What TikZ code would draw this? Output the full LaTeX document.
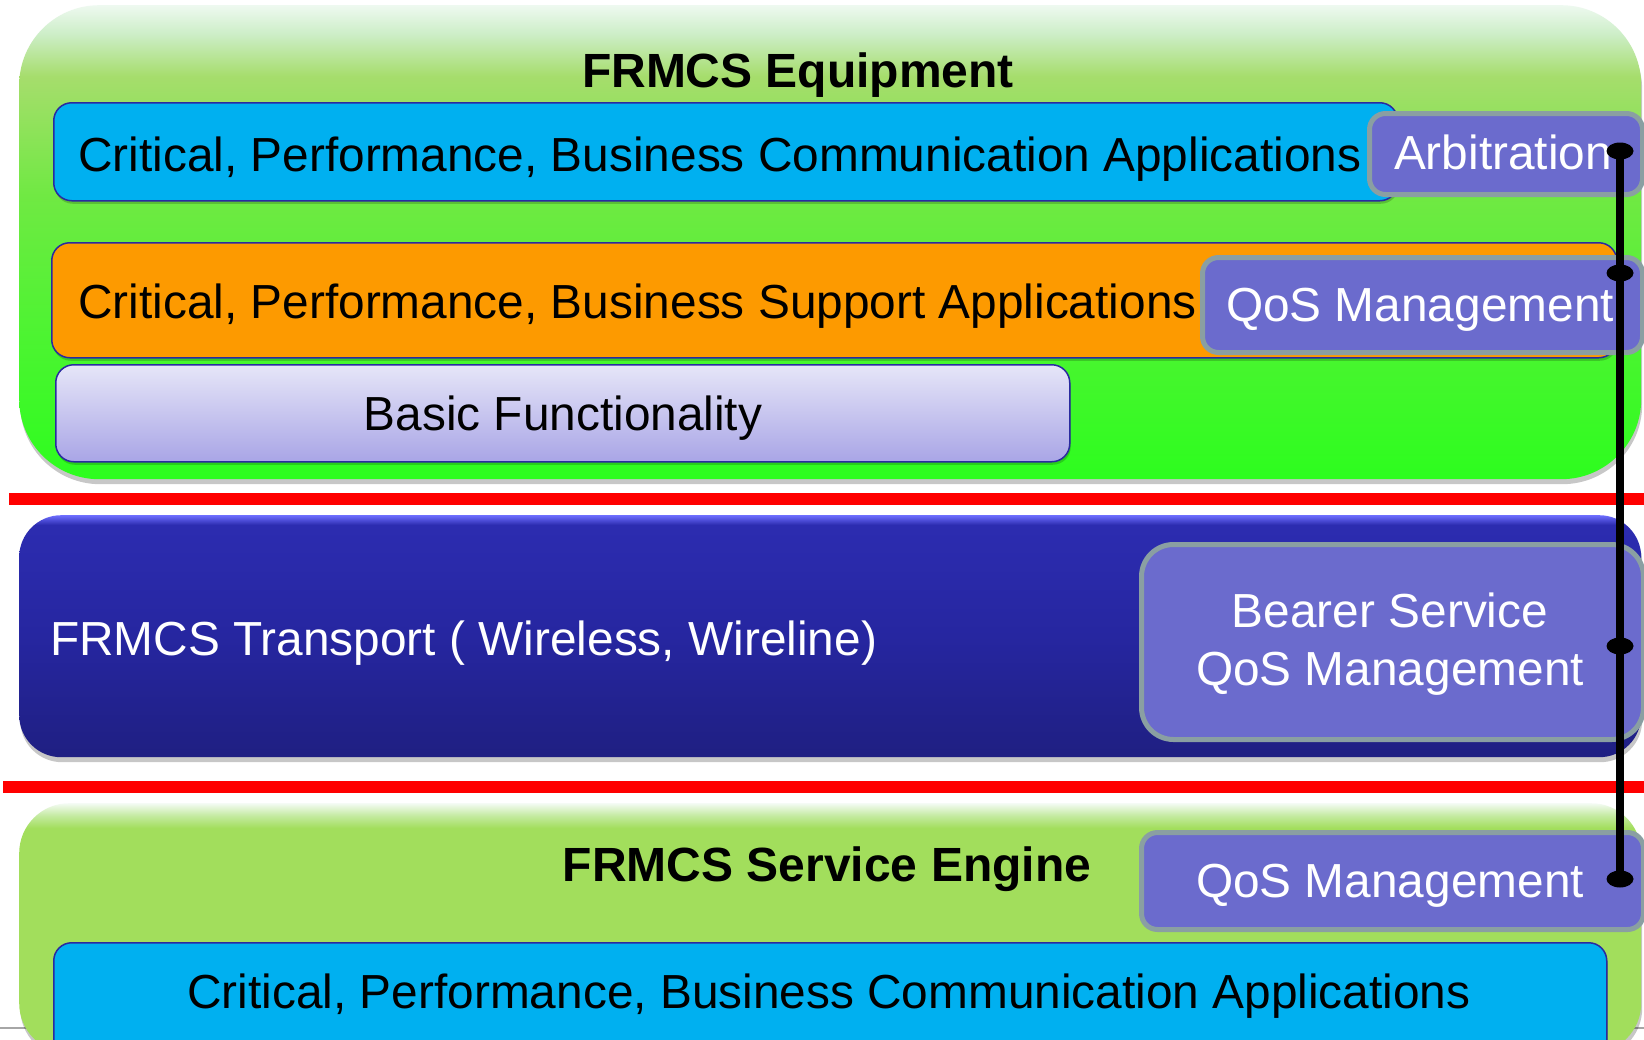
\documentclass[tikz,border=0pt]{standalone}
\usepackage{fontspec}
\setmainfont{Liberation Sans}
\usetikzlibrary{shapes.geometric,shadows}

\definecolor{appblue}{HTML}{00B0F0}
\definecolor{apporange}{HTML}{FD9A00}
\definecolor{appedge}{HTML}{2A2AA0}
\definecolor{mgmtfill}{HTML}{6B6BCD}
\definecolor{mgmtedge}{HTML}{8A9FA2}
\definecolor{sepred}{HTML}{FF0000}

% upper green layer: pale top edge fading into bright green
\pgfdeclareverticalshading{eqpshade}{100bp}{%
  color(0bp)=(rgb,255:red,45;green,253;blue,30); color(25bp)=(rgb,255:red,45;green,253;blue,30);
  color(40bp)=(rgb,255:red,76;green,244;blue,49);
  color(55bp)=(rgb,255:red,112;green,233;blue,67);
  color(67.5bp)=(rgb,255:red,166;green,221;blue,108);
  color(72bp)=(rgb,255:red,205;green,238;blue,200);
  color(75bp)=(rgb,255:red,238;green,249;blue,240);
  color(100bp)=(rgb,255:red,238;green,249;blue,240)}
% lower green layer
\pgfdeclareverticalshading{engshade}{100bp}{%
  color(0bp)=(rgb,255:red,162;green,222;blue,92);
  color(70bp)=(rgb,255:red,162;green,222;blue,92);
  color(72.5bp)=(rgb,255:red,196;green,234;blue,160);
  color(75bp)=(rgb,255:red,244;green,251;blue,244);
  color(100bp)=(rgb,255:red,244;green,251;blue,244)}
% transport layer
\pgfdeclareverticalshading{trnshade}{100bp}{%
  color(0bp)=(rgb,255:red,31;green,31;blue,130);
  color(25bp)=(rgb,255:red,31;green,31;blue,130);
  color(50bp)=(rgb,255:red,38;green,38;blue,160);
  color(73bp)=(rgb,255:red,44;green,44;blue,176);
  color(75bp)=(rgb,255:red,110;green,110;blue,255);
  color(100bp)=(rgb,255:red,110;green,110;blue,255)}
% basic functionality bar
\pgfdeclareverticalshading{basshade}{100bp}{%
  color(0bp)=(rgb,255:red,169;green,165;blue,230);
  color(25bp)=(rgb,255:red,169;green,165;blue,230);
  color(75bp)=(rgb,255:red,230;green,230;blue,248);
  color(100bp)=(rgb,255:red,230;green,230;blue,248)}

\begin{document}
\begin{tikzpicture}[x=1pt,y=-1pt,
  lbl/.style={inner sep=0pt, font=\fontsize{47.8}{57}\selectfont},
  ttl/.style={inner sep=0pt, font=\fontsize{48}{57}\selectfont\bfseries},
  softshadow/.style={drop shadow={shadow xshift=1pt, shadow yshift=-5pt, opacity=0.22, fill=black}},
  layer/.style={inner sep=0pt, anchor=north west, rounded corners=80pt, softshadow},
  band/.style={draw=appedge, line width=1.5pt, rounded corners=18pt, inner sep=0pt, anchor=north west,
    drop shadow={shadow xshift=1pt, shadow yshift=-3pt, opacity=0.18, fill=black}},
  mgmt/.style={fill=mgmtfill, draw=mgmtedge, line width=5pt, rounded corners=16pt, inner sep=0pt, anchor=north west},
  knob/.style={ellipse, fill=black, inner sep=0pt, minimum width=27pt, minimum height=17pt},
  sep/.style={sepred, line width=12pt}]

\useasboundingbox (0,0) rectangle (1644,1039);
\clip (0,0) rectangle (1644,1039);
\fill[white] (0,0) rectangle (1644,1039);
\draw[gray!70, line width=1.2pt] (0,1028) -- (1644,1028);

% ---------- FRMCS Equipment ----------
\node[layer, shading=eqpshade, minimum width=1622pt, minimum height=474pt] (eqp) at (19,5) {};
\node[ttl, anchor=base] (eqptitle) at (798,87) {FRMCS Equipment};

\node[band, fill=appblue, minimum width=1344pt, minimum height=98pt] (comapp) at (53,102) {};
\node[lbl, anchor=base west] (comtxt) at (78,171) {Critical, Performance, Business Communication Applications};

\node[mgmt, minimum width=273pt, minimum height=81pt] (arb) at (1367,111) {};
\node[lbl, anchor=base, text=white] (arbtxt) at (1503,169) {Arbitration};

\node[band, fill=apporange, minimum width=1565pt, minimum height=115pt] (supapp) at (51,242) {};
\node[lbl, anchor=base west] (suptxt) at (78,318) {Critical, Performance, Business Support Applications};

\node[mgmt, minimum width=440pt, minimum height=95pt] (qos1) at (1200,255) {};
\node[lbl, anchor=base, text=white] (qos1txt) at (1420,321) {QoS Management};

\node[band, shading=basshade, minimum width=1014pt, minimum height=97pt] (basic) at (55,364) {};
\node[lbl, anchor=base] (bastxt) at (563,430) {Basic Functionality};

% ---------- separators ----------
\coordinate (sepAl) at (9,499);
\coordinate (sepAr) at (1644,499);
\draw[sep] (sepAl) -- (sepAr);
\coordinate (sepBl) at (3,787);
\coordinate (sepBr) at (1644,787);
\draw[sep] (sepBl) -- (sepBr);

% ---------- FRMCS Transport ----------
\node[layer, shading=trnshade, rounded corners=42pt, minimum width=1622pt, minimum height=242pt] (trn) at (19,515) {};
\node[lbl, anchor=base west, text=white] (trntxt) at (50,655) {FRMCS Transport ( Wireless, Wireline)};

\node[mgmt, rounded corners=32pt, minimum width=502pt, minimum height=195pt] (bearer) at (1139,542) {};
\node[lbl, anchor=base, text=white] (brtxtA) at (1390,627) {Bearer Service};
\node[lbl, anchor=base, text=white] (brtxtB) at (1390,685) {QoS Management};

% ---------- FRMCS Service Engine ----------
\node[layer, shading=engshade, rounded corners=50pt, minimum width=1622pt, minimum height=250pt] (eng) at (19,803) {};
\node[ttl, anchor=base] (engtitle) at (827,881) {FRMCS Service Engine};

\node[mgmt, minimum width=502pt, minimum height=97pt] (qos2) at (1139,830) {};
\node[lbl, anchor=base, text=white] (qos2txt) at (1390,897) {QoS Management};

\node[band, fill=appblue, minimum width=1553pt, minimum height=120pt] (engapp) at (53,942) {};
\node[lbl, anchor=base] (engtxt) at (829,1008) {Critical, Performance, Business Communication Applications};

% ---------- control chain ----------
\node[knob] (kArb) at (1620,151) {};
\node[knob] (kQos) at (1620,273) {};
\node[knob] (kBearer) at (1620,646) {};
\node[knob] (kEng) at (1620,879) {};
\draw[line width=8pt] (kArb.center) -- (kQos.center) -- (kBearer.center) -- (kEng.center);

\end{tikzpicture}
\end{document}
